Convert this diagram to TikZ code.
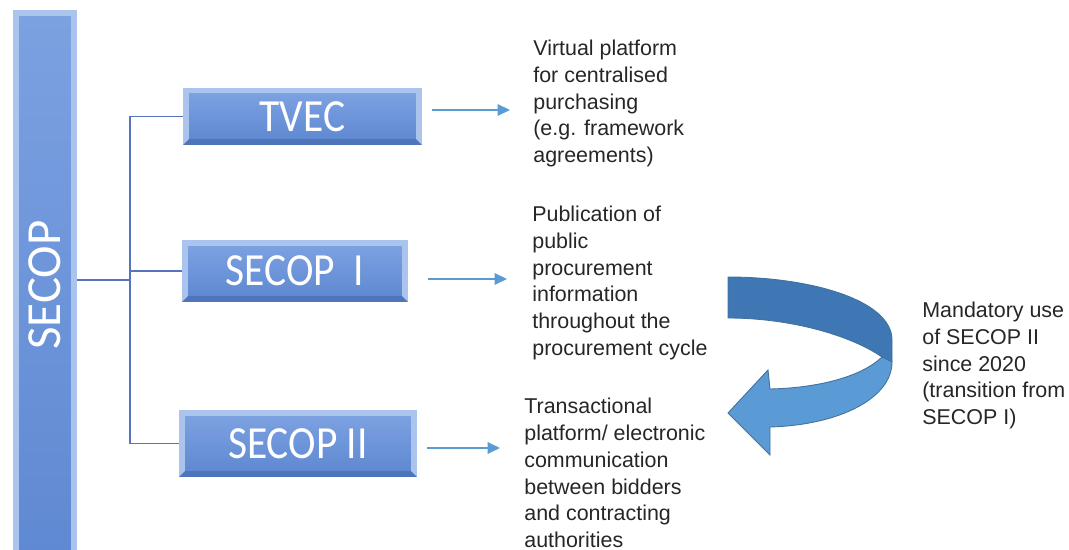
\documentclass[tikz,border=0pt]{standalone}
\usepackage{fontspec}
\setmainfont{Liberation Sans}
\newfontfamily\boxfont[FakeStretch=0.9]{Carlito}
\newfontfamily\barfont{Carlito}
\usepackage{tikz}
\usetikzlibrary{arrows.meta}

\definecolor{boxtop}{HTML}{7CA1E1}
\definecolor{boxbottom}{HTML}{5F89D2}
\definecolor{bevellight}{HTML}{AAC4EE}
\definecolor{beveldark}{HTML}{4E74BA}
\definecolor{linkblue}{HTML}{5673BD}
\definecolor{arrowblue}{HTML}{5B9BD5}
\definecolor{bandback}{HTML}{3E77B3}
\definecolor{bandfront}{HTML}{5B9BD5}
\definecolor{bandline}{HTML}{41719C}
\definecolor{textgray}{HTML}{262626}

\tikzset{
  bevelbox/.style={inner sep=0pt, text=white, fill=bevellight,
    path picture={
      \fill[beveldark] (path picture bounding box.south west) -- (path picture bounding box.south east)
        -- ([shift={(-0.12cm,0.12cm)}]path picture bounding box.south east)
        -- ([shift={(0.12cm,0.12cm)}]path picture bounding box.south west) -- cycle;
      \shade[top color=boxtop, bottom color=boxbottom]
        ([shift={(0.12cm,0.12cm)}]path picture bounding box.south west)
        rectangle ([shift={(-0.12cm,-0.12cm)}]path picture bounding box.north east);
    }},
  link/.style={draw=linkblue, line width=1.1pt},
  pointer/.style={draw=arrowblue, line width=0.8pt, -{Triangle[length=7pt,width=6.5pt]}},
  note/.style={anchor=north west, inner sep=0pt, align=left, text=textgray,
    font=\fontsize{12.2}{15.2}\selectfont}
}

\begin{document}
\begin{tikzpicture}[x=0.02cm,y=-0.02cm]
\useasboundingbox (0,0) rectangle (1069,550);
\clip (0,0) rectangle (1069,550);

% boxes
\node[bevelbox, minimum width=1.28cm, minimum height=11cm, font=\barfont\fontsize{27.9}{32}\selectfont] (secop) at (45,285) {\rotatebox{90}{SECOP}};
\node[bevelbox, minimum width=4.78cm, minimum height=1.14cm, font=\boxfont\fontsize{26.2}{30}\selectfont] (tvec) at (302.5,116.5) {TVEC};
\node[bevelbox, minimum width=4.52cm, minimum height=1.24cm, font=\boxfont\fontsize{26.2}{30}\selectfont] (secopa) at (295,271) {SECOP\ \ I};
\node[bevelbox, minimum width=4.76cm, minimum height=1.34cm, font=\boxfont\fontsize{26.2}{30}\selectfont] (secopb) at (298,443.5) {SECOP II};

% tree
\coordinate (fork) at (130,280);
\draw[link] (secop.east |- fork) -- (fork);
\draw[link] (tvec.west) -- (tvec.west -| fork) -- (secopb.west -| fork) -- (secopb.west);
\draw[link] (fork |- secopa.west) -- (secopa.west);

% notes
\node[note] (tvecnote) at (533,40) {Virtual platform\\for centralised\\purchasing\\(e.g. framework\\agreements)};
\node[note] (secopanote) at (532,206) {Publication of\\public\\procurement\\information\\throughout the\\procurement cycle};
\node[note] (secopbnote) at (524,398) {Transactional\\platform/ electronic\\communication\\between bidders\\and contracting\\authorities};
\node[note] (mandnote) at (922,302) {Mandatory use\\of SECOP II\\since 2020\\(transition from\\SECOP I)};

% arrows
\coordinate (tipa) at (510,110);
\coordinate (tipb) at (507,279);
\coordinate (tipc) at (500,448);
\draw[pointer, shorten <=0.2cm] (tvec.east |- tipa) -- (tipa);
\draw[pointer, shorten <=0.4cm] (secopa.east |- tipb) -- (tipb);
\draw[pointer, shorten <=0.2cm] (secopb.east |- tipc) -- (tipc);

% curved arrow
\filldraw[fill=bandback, draw=bandline, line width=0.5pt] (728,277) .. controls (810,277) and (892,300) .. (892,340) -- (892,362) -- (882,357) .. controls (850,335) and (790,318) .. (728,318) -- cycle;
\filldraw[fill=bandfront, draw=bandline, line width=0.5pt] (882,357) .. controls (860,378) and (815,388) .. (770,389) -- (768,370) -- (728,413) -- (770,455) -- (770,427) .. controls (840,425) and (892,398) .. (892,362) -- cycle;

\end{tikzpicture}
\end{document}
